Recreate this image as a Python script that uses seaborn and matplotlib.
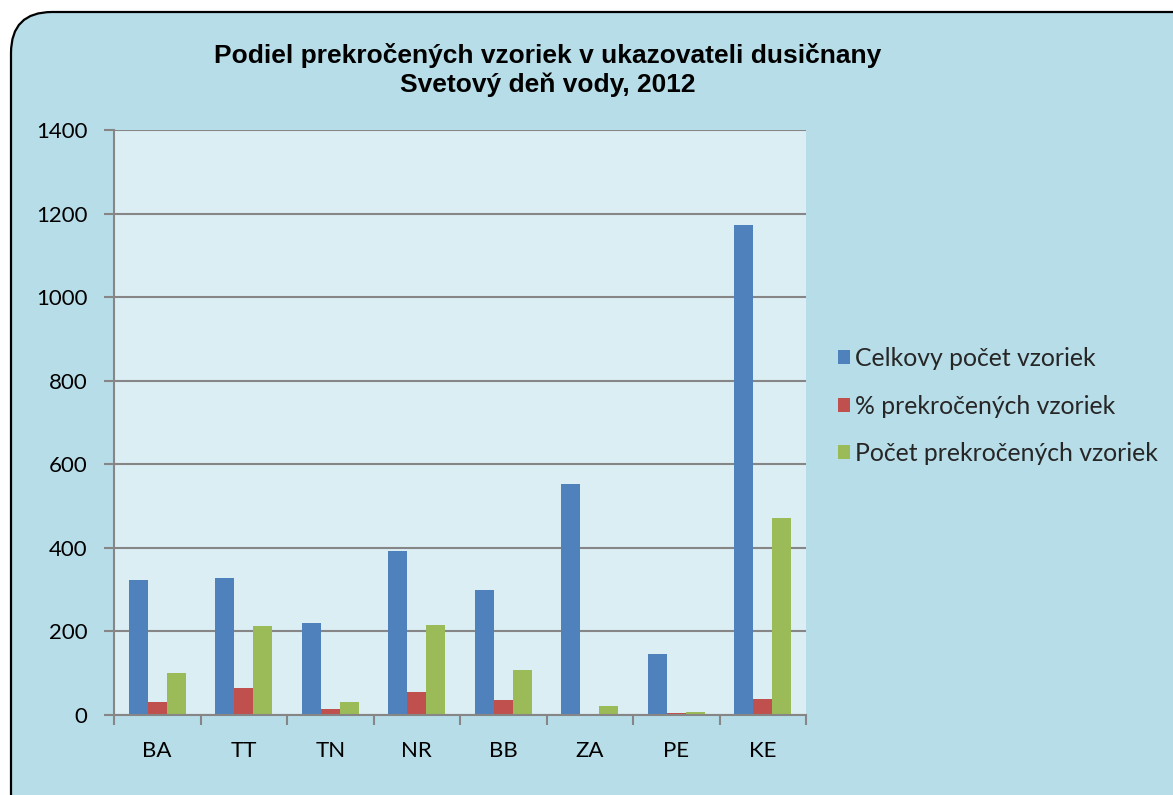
import matplotlib
matplotlib.use("Agg")
import matplotlib.pyplot as plt
from matplotlib.patches import FancyBboxPatch
import seaborn as sns
import pandas as pd

regions = ["BA", "TT", "TN", "NR", "BB", "ZA", "PE", "KE"]
celkovy = [323, 327, 219, 393, 299, 552, 145, 1173]
percent = [30, 64, 14, 54, 35, 3, 5, 39]
pocet = [100, 212, 32, 215, 108, 22, 8, 472]
series_names = ["Celkovy počet vzoriek", "% prekročených vzoriek", "Počet prekročených vzoriek"]
colors = ["#4f81bd", "#c0504d", "#9bbb59"]
yticks = [0, 200, 400, 600, 800, 1000, 1200, 1400]

df = pd.DataFrame({
    "region": regions * 3,
    "value": celkovy + percent + pocet,
    "series": [series_names[0]] * 8 + [series_names[1]] * 8 + [series_names[2]] * 8,
})

sns.set_theme(style="white")
plt.rcParams["font.family"] = ["Lato", "DejaVu Sans"]

W, H = 1173, 795
fig = plt.figure(figsize=(W / 100, H / 100), dpi=100)
fig.patch.set_facecolor("white")

box = FancyBboxPatch((11 / W, -40 / H), (W + 60) / W, (H + 28) / H,
                     boxstyle="round,pad=0,rounding_size=0.035",
                     transform=fig.transFigure, facecolor="#b7dde8",
                     edgecolor="black", linewidth=1.6, mutation_aspect=W / H,
                     zorder=-10)
fig.patches.append(box)

ax = fig.add_axes([114 / W, 1 - 715 / H, (806 - 114) / W, (715 - 130) / H])
ax.set_facecolor("#dbeef4")

sns.barplot(data=df, x="region", y="value", hue="series", order=regions,
            hue_order=series_names, palette=colors, width=0.66, gap=0,
            ax=ax, saturation=1, edgecolor="none", legend=True)

ax.set_ylim(0, 1400)
ax.set_xlim(-0.5, 7.5)
ax.set_yticks(yticks)
ax.yaxis.grid(True, color="#868686", linewidth=1.5)
ax.set_axisbelow(True)
ax.set_xlabel("")
ax.set_ylabel("")
for s in ["top", "right"]:
    ax.spines[s].set_visible(False)
for s in ["left", "bottom"]:
    ax.spines[s].set_color("#868686")
    ax.spines[s].set_linewidth(1.5)

ax.tick_params(axis="y", length=7, width=1.5, color="#868686", labelsize=16,
               labelcolor="black", pad=12, left=True)
ax.tick_params(axis="x", which="major", length=0, labelsize=16, labelcolor="black", pad=19)
ax.set_xticks([i - 0.5 for i in range(9)], minor=True)
ax.tick_params(axis="x", which="minor", length=7, width=1.5, color="#868686", bottom=True)

fig.text(548 / W, 1 - 70 / H, "Podiel prekročených vzoriek v ukazovateli dusičnany\nSvetový deň vody, 2012",
         ha="center", va="center", fontsize=19, fontweight="bold", color="black",
         family=["Liberation Sans", "DejaVu Sans"], linespacing=1.2)

handles, labels = ax.get_legend_handles_labels()
ax.legend(handles, labels, loc="center left", bbox_to_anchor=(838 / W, 1 - 406 / H),
          bbox_transform=fig.transFigure, frameon=False, fontsize=17.8, borderpad=0,
          borderaxespad=0, handlelength=0.5, handleheight=0.5, handletextpad=0.2,
          labelspacing=1.0)

fig.savefig("out.png", dpi=100)
